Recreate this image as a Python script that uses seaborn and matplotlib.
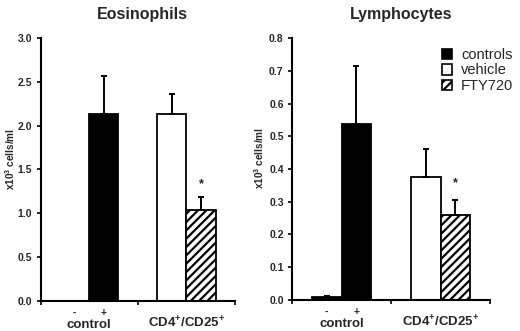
import numpy as np
import pandas as pd
import matplotlib
matplotlib.use("Agg")
import matplotlib.pyplot as plt
import seaborn as sns
from matplotlib.patches import Patch

# bar layout: two groups, two slots each
groups = ["control", "CD4/CD25"]
group_labels = ["control", "CD4$^{\\mathbf{+}}$/CD25$^{\\mathbf{+}}$"]
bar_group = ["control", "control", "CD4/CD25", "CD4/CD25"]
bar_slot = ["s0", "s1", "s0", "s1"]
bar_kind = ["controls", "controls", "vehicle", "FTY720"]
slot_labels = ["-", "+"]

eos_mean = [0.0, 2.13, 2.13, 1.04]
eos_err = [0.0, 0.44, 0.235, 0.145]
lym_mean = [0.008, 0.537, 0.375, 0.259]
lym_err = [0.004, 0.178, 0.086, 0.046]

panels = [
    ("Eosinophils", eos_mean, eos_err, 3.0, 0.5, 1.33),
    ("Lymphocytes", lym_mean, lym_err, 0.8, 0.1, 0.357),
]

sns.set_style("ticks")
plt.rcParams['font.family'] = ['Liberation Sans', 'DejaVu Sans']
plt.rcParams['mathtext.fontset'] = 'custom'
plt.rcParams['mathtext.bf'] = 'Liberation Sans:bold'
plt.rcParams['mathtext.rm'] = 'Liberation Sans'
plt.rcParams['hatch.linewidth'] = 1.6

kind_style = {
    "controls": dict(facecolor="black", hatch=None),
    "vehicle": dict(facecolor="white", hatch=None),
    "FTY720": dict(facecolor="white", hatch="////"),
}

fig = plt.figure(figsize=(5.2, 3.31), dpi=100)
axes = [fig.add_axes([0.078, 0.091, 0.374, 0.794]),
        fig.add_axes([0.5615, 0.094, 0.381, 0.791])]
title_x = [0.525, 0.55]
ylab_x = [-0.122, -0.13]

for k, (ax, (title, mean, err, ymax, ystep, star_y)) in enumerate(zip(axes, panels)):
    df = pd.DataFrame({"group": bar_group, "slot": bar_slot, "value": mean,
                       "err": err, "kind": bar_kind})
    sns.barplot(data=df, x="group", y="value", hue="slot", order=groups,
                hue_order=["s0", "s1"], dodge=True, width=0.6, errorbar=None,
                legend=False, ax=ax)
    bar_conts = list(ax.containers)
    for h, cont in enumerate(bar_conts):
        for i, bar in enumerate(cont):
            row = df[(df.group == groups[i]) & (df.slot == ["s0", "s1"][h])].iloc[0]
            st = kind_style[row.kind]
            bar.set_facecolor(st["facecolor"])
            bar.set_edgecolor("black")
            bar.set_linewidth(1.3)
            if st["hatch"]:
                bar.set_hatch(st["hatch"])
            if row.value <= 0:
                bar.set_visible(False)
            else:
                cx = bar.get_x() + bar.get_width() / 2
                ax.errorbar(cx, row.value, yerr=[[0], [row.err]], fmt="none",
                            ecolor="black", elinewidth=1.4, capsize=2,
                            capthick=1.4, zorder=3)
                if row.kind == "FTY720":
                    ax.text(cx, star_y, "*", ha="center", va="center",
                            fontsize=9, fontweight="bold")
            if row.kind == "controls":
                cx = bar.get_x() + bar.get_width() / 2
                ax.annotate(slot_labels[h], xy=(cx, 0),
                            xycoords=("data", "axes fraction"),
                            xytext=(0, -8.5), textcoords="offset points",
                            ha="center", va="center", fontsize=7.5,
                            fontweight="bold")

    for i, lab in enumerate(group_labels):
        ax.annotate(lab, xy=(i, 0), xycoords=("data", "axes fraction"),
                    xytext=(0, -19.5), textcoords="offset points",
                    ha="center", va="baseline", fontsize=9.5, fontweight="bold")

    ax.set_xlim(-0.5, 1.5)
    ax.set_ylim(0, ymax)
    ticks = np.arange(0, ymax + ystep / 2, ystep)
    ax.set_yticks(ticks)
    ax.set_yticklabels([f"{v:.1f}" for v in ticks], fontsize=7.5, fontweight="bold")
    ax.set_xticks([-0.5, 0.5, 1.5])
    ax.set_xticklabels([])
    ax.tick_params(axis="both", direction="out", length=3, width=1.2,
                   color="black", pad=3)
    ax.set_xlabel("")
    ax.set_ylabel("x10$^{\\mathbf{3}}$ cells/ml", fontsize=7.2, fontweight="bold")
    ax.yaxis.set_label_coords(ylab_x[k], 0.54)
    ax.set_title(title, fontsize=11.5, fontweight="bold", x=title_x[k], pad=14)
    sns.despine(ax=ax)
    for s in ["left", "bottom"]:
        ax.spines[s].set_linewidth(1.5)
        ax.spines[s].set_color("black")

handles = [Patch(facecolor=kind_style[n]["facecolor"], edgecolor="black",
                 hatch=kind_style[n]["hatch"], linewidth=1.2)
           for n in ["controls", "vehicle", "FTY720"]]
axes[1].legend(handles, ["controls", "vehicle", "FTY720"], loc="upper left",
               bbox_to_anchor=(0.755, 0.962), frameon=False, fontsize=10.5,
               handlelength=0.75, handleheight=0.75, handletextpad=0.6,
               labelspacing=0.1, borderpad=0, borderaxespad=0)

fig.savefig("out.png", dpi=100)
